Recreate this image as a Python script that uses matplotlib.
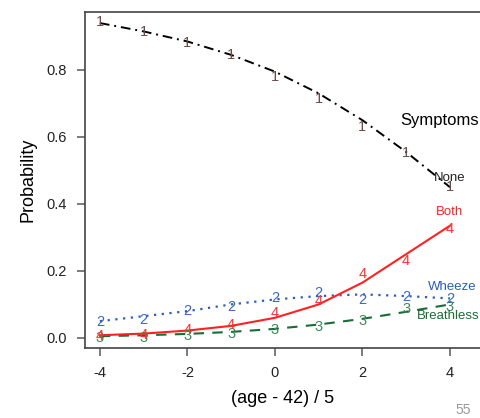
# -*- coding: utf-8 -*-
import matplotlib
matplotlib.use('Agg')
import matplotlib.pyplot as plt

plt.rcParams['font.family'] = ['Liberation Sans', 'DejaVu Sans']

# data: standardised age and fitted / observed probabilities
age = [-4, -3, -2, -1, 0, 1, 2, 3, 4]

fit_none = [0.94, 0.915, 0.885, 0.845, 0.795, 0.73, 0.65, 0.555, 0.45]
fit_wheeze = [0.05, 0.065, 0.08, 0.10, 0.115, 0.125, 0.13, 0.125, 0.118]
fit_breath = [0.005, 0.008, 0.012, 0.018, 0.027, 0.04, 0.057, 0.078, 0.10]
fit_both = [0.008, 0.013, 0.022, 0.036, 0.06, 0.10, 0.165, 0.25, 0.335]

obs_none = [0.943, 0.913, 0.88, 0.845, 0.779, 0.713, 0.63, 0.552, 0.45]
obs_wheeze = [0.048, 0.054, 0.08, 0.093, 0.12, 0.134, 0.113, 0.122, 0.116]
obs_breath = [0.0, 0.0, 0.005, 0.012, 0.024, 0.033, 0.05, 0.086, 0.092]
obs_both = [0.005, 0.01, 0.024, 0.04, 0.075, 0.11, 0.19, 0.23, 0.325]

names = ['None', 'Wheeze', 'Breathless', 'Both']
digits = ['1', '2', '3', '4']
label_y = [0.478, 0.152, 0.066, 0.376]

fig = plt.figure(figsize=(4.81, 4.18), dpi=100)
ax = fig.add_axes([0.1767, 0.1675, 0.8233, 0.8038])

# fitted curves
ax.plot(age, fit_none, color='black', linestyle=(0, (5, 2.5, 1, 2.5)), lw=1.4)
ax.plot(age, fit_wheeze, color='#2a5cc0', linestyle=(0, (1, 2.5)), lw=1.6)
ax.plot(age, fit_breath, color='#1a6b35', linestyle=(0, (5, 4)), lw=1.5)
ax.plot(age, fit_both, color='#ff2020', linestyle='-', lw=1.5)

# observed proportions drawn as digits
dcols = ['#6b4a4a', '#3a66c4', '#3a8a5a', '#ff3030']
for obs, d, c in zip([obs_none, obs_wheeze, obs_breath, obs_both], digits, dcols):
    for a, p in zip(age, obs):
        ax.text(a, p, d, color=c, fontsize=10.5, ha='center', va='center')

# curve labels
lcols = ['#222222', '#2a5cc0', '#1a6b35', '#ff2020']
lx = [4.0, 4.05, 3.95, 4.0]
for n, c, x, y in zip(names, lcols, lx, label_y):
    ax.text(x, y, n, color=c, fontsize=9.5, ha='center', va='center')
ax.text(3.76, 0.65, 'Symptoms', fontsize=12, ha='center', va='center')

ax.set_xlim(-4.34, 4.71)
ax.set_ylim(-0.03, 0.973)
ax.set_xticks([-4, -2, 0, 2, 4])
ax.set_xticklabels(['-4', '-2', '0', '2', '4'])
ax.set_yticks([0.0, 0.2, 0.4, 0.6, 0.8])
ax.set_yticklabels(['0.0', '0.2', '0.4', '0.6', '0.8'])
ax.spines['right'].set_visible(False)
for s in ['left', 'bottom', 'top']:
    ax.spines[s].set_color('#444444')
    ax.spines[s].set_linewidth(1.2)
ax.tick_params(axis='both', length=6, width=1.2, color='#666666', labelsize=10.5,
               labelcolor='#222222', pad=7)
ax.set_xlabel('(age - 42) / 5', fontsize=13, labelpad=7)
ax.set_ylabel('Probability', fontsize=13, labelpad=7)

fig.text(0.963, 0.02, '55', color='#999999', fontsize=10, ha='center', va='center')

plt.savefig('out.png', dpi=100)
